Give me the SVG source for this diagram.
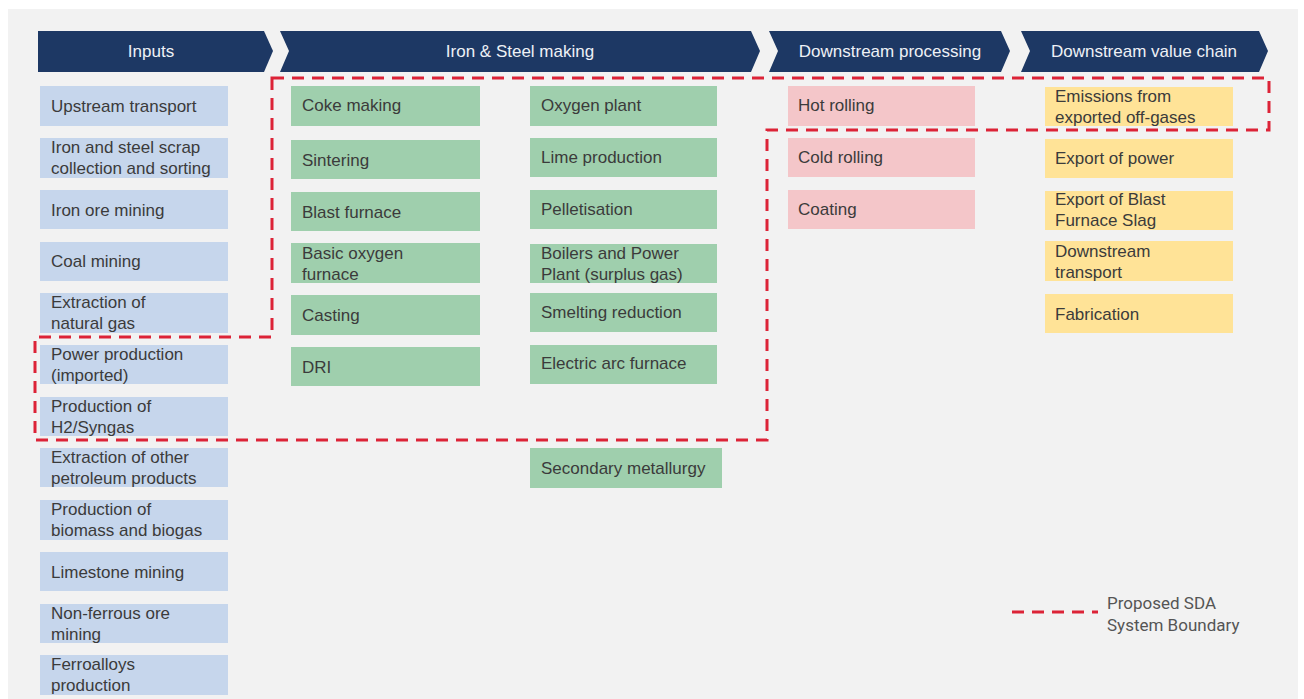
<svg xmlns="http://www.w3.org/2000/svg" width="1304" height="699" viewBox="0 0 1304 699">
  <style>
    .hdr { fill: #1d3864; }
    .htxt { fill: #eef1f6; font-family: "Liberation Sans", Arial, sans-serif; font-size: 17px; text-anchor: middle; }
    .box text { fill: #3b3b3b; font-family: "Liberation Sans", Arial, sans-serif; font-size: 17px; }
    .inp rect { fill: #c6d6ec; }
    .mk rect { fill: #9fcfad; }
    .dp rect { fill: #f4c6c9; }
    .vc rect { fill: #ffe397; }
    .bound { fill: none; stroke: #dc2337; stroke-width: 3; stroke-dasharray: 12 8; }
    .legend text { fill: #555555; font-family: Roboto, "Liberation Sans", sans-serif; font-size: 17px; }
  </style>

  <!-- page -->
  <rect x="0" y="0" width="1304" height="699" fill="#ffffff"/>
  <rect x="8" y="9" width="1290" height="690" fill="#f2f2f2"/>

  <!-- stage headers -->
  <g id="header-inputs">
    <polygon class="hdr" points="38,31 264,31 273,51 264,72 38,72"/>
    <text class="htxt" x="151" y="57">Inputs</text>
  </g>
  <g id="header-making">
    <polygon class="hdr" points="280,31 751,31 760,51 751,72 280,72 289,51"/>
    <text class="htxt" x="520" y="57">Iron &amp; Steel making</text>
  </g>
  <g id="header-processing">
    <polygon class="hdr" points="769,31 1001,31 1010,51 1001,72 769,72 778,51"/>
    <text class="htxt" x="890" y="57">Downstream processing</text>
  </g>
  <g id="header-valuechain">
    <polygon class="hdr" points="1021,31 1259,31 1268,51 1259,72 1021,72 1030,51"/>
    <text class="htxt" x="1144" y="57">Downstream value chain</text>
  </g>

  <!-- inputs column -->
  <g class="box inp">
    <g id="upstream-transport"><rect x="40" y="86" width="188" height="40"/><text x="51" y="112">Upstream transport</text></g>
    <g id="scrap-collection"><rect x="40" y="138" width="188" height="40"/><text x="51" y="153">Iron and steel scrap</text><text x="51" y="174">collection and sorting</text></g>
    <g id="iron-ore-mining"><rect x="40" y="190" width="188" height="39"/><text x="51" y="216">Iron ore mining</text></g>
    <g id="coal-mining"><rect x="40" y="242" width="188" height="39"/><text x="51" y="267">Coal mining</text></g>
    <g id="natural-gas"><rect x="40" y="293" width="188" height="40"/><text x="51" y="308">Extraction of</text><text x="51" y="329">natural gas</text></g>
    <g id="power-production"><rect x="40" y="345" width="188" height="39"/><text x="51" y="360">Power production</text><text x="51" y="381">(imported)</text></g>
    <g id="h2-syngas"><rect x="40" y="397" width="188" height="39"/><text x="51" y="412">Production of</text><text x="51" y="433">H2/Syngas</text></g>
    <g id="petroleum-products"><rect x="40" y="448" width="188" height="39"/><text x="51" y="463">Extraction of other</text><text x="51" y="484">petroleum products</text></g>
    <g id="biomass-biogas"><rect x="40" y="500" width="188" height="40"/><text x="51" y="515">Production of</text><text x="51" y="536">biomass and biogas</text></g>
    <g id="limestone-mining"><rect x="40" y="552" width="188" height="39"/><text x="51" y="578">Limestone mining</text></g>
    <g id="non-ferrous-mining"><rect x="40" y="604" width="188" height="39"/><text x="51" y="619">Non-ferrous ore</text><text x="51" y="640">mining</text></g>
    <g id="ferroalloys"><rect x="40" y="655" width="188" height="40"/><text x="51" y="670">Ferroalloys</text><text x="51" y="691">production</text></g>
  </g>

  <!-- iron and steel making, first column -->
  <g class="box mk">
    <g id="coke-making"><rect x="291" y="86" width="189" height="40"/><text x="302" y="111">Coke making</text></g>
    <g id="sintering"><rect x="291" y="140" width="189" height="39"/><text x="302" y="166">Sintering</text></g>
    <g id="blast-furnace"><rect x="291" y="192" width="189" height="39"/><text x="302" y="218">Blast furnace</text></g>
    <g id="basic-oxygen-furnace"><rect x="291" y="243" width="189" height="40"/><text x="302" y="259">Basic oxygen</text><text x="302" y="280">furnace</text></g>
    <g id="casting"><rect x="291" y="295" width="189" height="40"/><text x="302" y="321">Casting</text></g>
    <g id="dri"><rect x="291" y="347" width="189" height="39"/><text x="302" y="373">DRI</text></g>
  </g>

  <!-- iron and steel making, second column -->
  <g class="box mk">
    <g id="oxygen-plant"><rect x="530" y="86" width="187" height="40"/><text x="541" y="111">Oxygen plant</text></g>
    <g id="lime-production"><rect x="530" y="138" width="187" height="39"/><text x="541" y="163">Lime production</text></g>
    <g id="pelletisation"><rect x="530" y="190" width="187" height="39"/><text x="541" y="215">Pelletisation</text></g>
    <g id="boilers-power-plant"><rect x="530" y="244" width="187" height="39"/><text x="541" y="259">Boilers and Power</text><text x="541" y="280">Plant (surplus gas)</text></g>
    <g id="smelting-reduction"><rect x="530" y="293" width="187" height="39"/><text x="541" y="318">Smelting reduction</text></g>
    <g id="electric-arc-furnace"><rect x="530" y="345" width="187" height="39"/><text x="541" y="369">Electric arc furnace</text></g>
    <g id="secondary-metallurgy"><rect x="530" y="448" width="192" height="40"/><text x="541" y="474">Secondary metallurgy</text></g>
  </g>

  <!-- downstream processing -->
  <g class="box dp">
    <g id="hot-rolling"><rect x="788" y="86" width="187" height="40"/><text x="798" y="111">Hot rolling</text></g>
    <g id="cold-rolling"><rect x="788" y="138" width="187" height="39"/><text x="798" y="163">Cold rolling</text></g>
    <g id="coating"><rect x="788" y="190" width="187" height="39"/><text x="798" y="215">Coating</text></g>
  </g>

  <!-- downstream value chain -->
  <g class="box vc">
    <g id="offgas-emissions"><rect x="1045" y="87" width="188" height="39"/><text x="1055" y="102">Emissions from</text><text x="1055" y="123">exported off-gases</text></g>
    <g id="export-power"><rect x="1045" y="139" width="188" height="39"/><text x="1055" y="164">Export of power</text></g>
    <g id="export-slag"><rect x="1045" y="191" width="188" height="39"/><text x="1055" y="205">Export of Blast</text><text x="1055" y="226">Furnace Slag</text></g>
    <g id="downstream-transport"><rect x="1045" y="241" width="188" height="40"/><text x="1055" y="257">Downstream</text><text x="1055" y="278">transport</text></g>
    <g id="fabrication"><rect x="1045" y="294" width="188" height="39"/><text x="1055" y="320">Fabrication</text></g>
  </g>

  <!-- system boundary -->
  <g id="connectors">
    <path class="bound" d="M272,78 H1269 V130 H767 V440 H35 V337 H272 Z"/>
  </g>

  <!-- legend -->
  <g id="legend" class="legend">
    <line class="bound" x1="1012" y1="612" x2="1098" y2="612"/>
    <text x="1107" y="609">Proposed SDA</text>
    <text x="1107" y="631">System Boundary</text>
  </g>
</svg>
